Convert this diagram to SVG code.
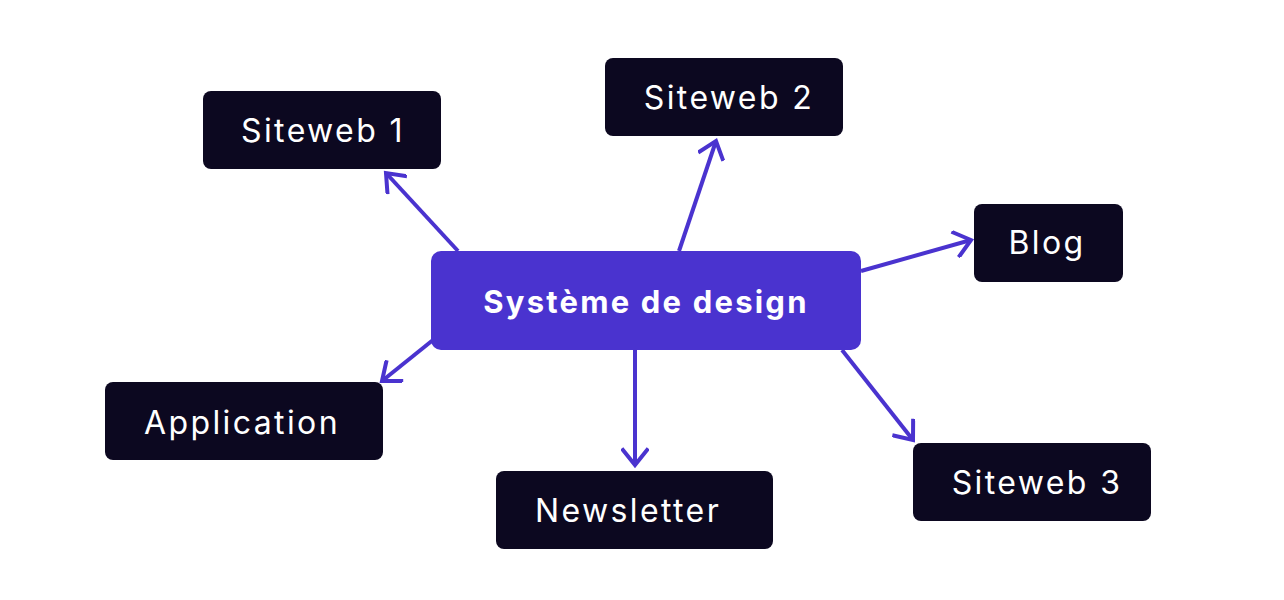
<svg xmlns="http://www.w3.org/2000/svg" width="1284" height="600" viewBox="0 0 1284 600">
<style>
.box{fill:#0c0820}
.lbl{fill:#ffffff;font-family:Inter,"Noto Sans","Liberation Sans",sans-serif;font-size:32px;font-weight:400;letter-spacing:2.4px;text-anchor:middle}
.main{fill:#4a33cf}
.mlbl{fill:#ffffff;font-family:Inter,"Noto Sans","Liberation Sans",sans-serif;font-size:31px;font-weight:700;letter-spacing:2.2px;text-anchor:middle}
.con{stroke:#4a33cf;stroke-width:4;fill:none;marker-end:url(#ah)}
</style>
<defs>
<marker id="ah" markerUnits="userSpaceOnUse" viewBox="-20 -14 24 28" refX="0" refY="0" markerWidth="24" markerHeight="28" orient="auto">
<polyline points="-15,-12 0,0 -15,12" fill="none" stroke="#4a33cf" stroke-width="4" stroke-linecap="square"/>
</marker>
</defs>
<rect width="1284" height="600" fill="#ffffff"/>
<g id="connectors">
<line class="con" x1="458" y1="251" x2="386" y2="173"/>
<line class="con" x1="679" y1="251" x2="716" y2="141"/>
<line class="con" x1="861" y1="271" x2="971" y2="240"/>
<line class="con" x1="433" y1="340" x2="382" y2="381"/>
<line class="con" x1="635" y1="350" x2="635" y2="465"/>
<line class="con" x1="842" y1="350" x2="913" y2="440"/>
</g>
<g id="center">
<rect class="main" x="431" y="251" width="430" height="99" rx="10"/>
<text class="mlbl" x="646" y="313">Système de design</text>
</g>
<g id="siteweb1">
<rect class="box" x="203" y="91" width="238" height="78" rx="8"/>
<text class="lbl" x="323" y="142">Siteweb 1</text>
</g>
<g id="siteweb2">
<rect class="box" x="605" y="58" width="238" height="78" rx="8"/>
<text class="lbl" x="729" y="109">Siteweb 2</text>
</g>
<g id="blog">
<rect class="box" x="974" y="204" width="149" height="78" rx="8"/>
<text class="lbl" x="1047" y="254">Blog</text>
</g>
<g id="application">
<rect class="box" x="105" y="382" width="278" height="78" rx="8"/>
<text class="lbl" x="242" y="434">Application</text>
</g>
<g id="newsletter">
<rect class="box" x="496" y="471" width="277" height="78" rx="8"/>
<text class="lbl" x="628" y="522">Newsletter</text>
</g>
<g id="siteweb3">
<rect class="box" x="913" y="443" width="238" height="78" rx="8"/>
<text class="lbl" x="1037" y="494">Siteweb 3</text>
</g>
</svg>
